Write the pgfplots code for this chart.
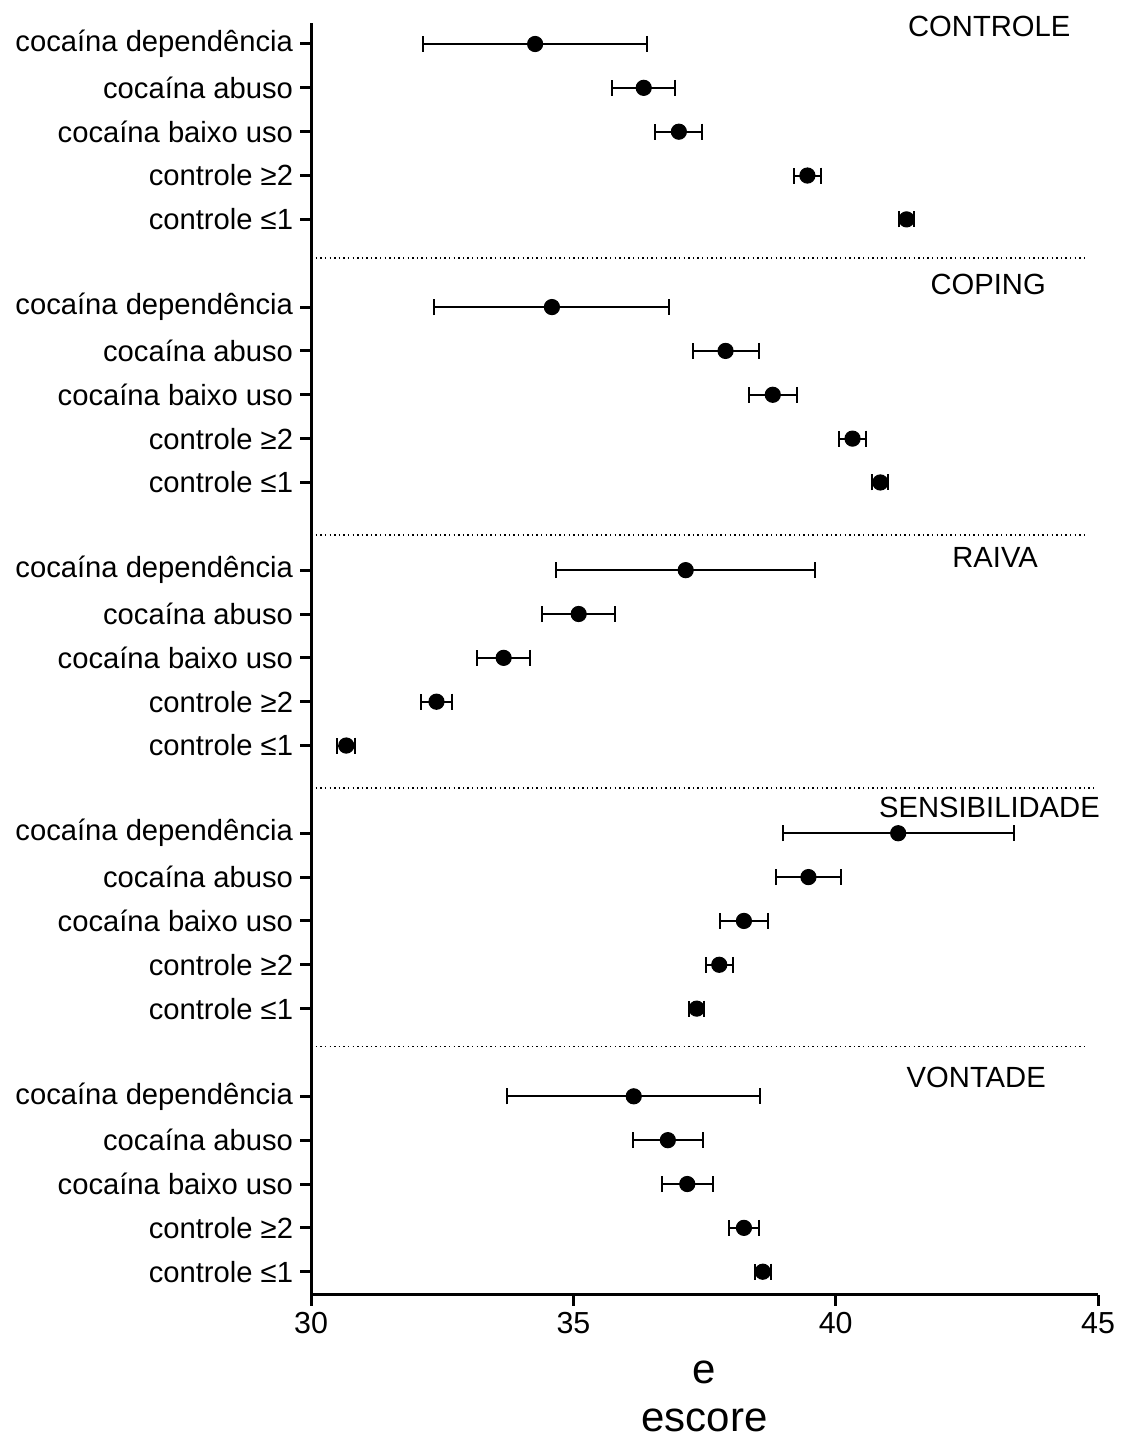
\documentclass[border=0pt]{standalone}
\usepackage{fontspec}
\setmainfont{Liberation Sans}
\usepackage{pgfplots}
\pgfplotsset{compat=1.18}
\usepackage{pgfplotstable}

\pgfplotstableread{
y x ex
0 34.27 2.14
1 36.34 0.60
2 37.01 0.45
3 39.46 0.25
4 41.35 0.15
6 34.59 2.24
7 37.90 0.63
8 38.80 0.46
9 40.32 0.26
10 40.85 0.15
12 37.14 2.47
13 35.10 0.69
14 33.67 0.51
15 32.39 0.29
16 30.67 0.17
18 41.19 2.20
19 39.48 0.62
20 38.25 0.45
21 37.78 0.26
22 37.35 0.14
24 36.15 2.41
25 36.80 0.67
26 37.17 0.49
27 38.25 0.28
28 38.61 0.15
}\datatable

\begin{document}
\begin{tikzpicture}
\begin{axis}[
  scale only axis, width=393.5pt, height=635.6pt,
  xmin=30, xmax=45, ymin=-0.47, ymax=28.52, y dir=reverse,
  axis x line=bottom, axis y line=left,
  axis line style={-, line width=1.5pt},
  xtick={30,35,40,45},
  ytick={0,1,2,3,4,6,7,8,9,10,12,13,14,15,16,18,19,20,21,22,24,25,26,27,28},
  yticklabels={cocaína dependência, cocaína abuso, cocaína baixo uso, controle ≥2, controle ≤1,
               cocaína dependência, cocaína abuso, cocaína baixo uso, controle ≥2, controle ≤1,
               cocaína dependência, cocaína abuso, cocaína baixo uso, controle ≥2, controle ≤1,
               cocaína dependência, cocaína abuso, cocaína baixo uso, controle ≥2, controle ≤1,
               cocaína dependência, cocaína abuso, cocaína baixo uso, controle ≥2, controle ≤1},
  tick align=outside,
  major tick length=5.5pt,
  tick style={line width=1.5pt, black},
  clip=false,
  /pgf/number format/assume math mode=true,
  xticklabel style={font=\fontsize{15.2}{18}\selectfont},
  yticklabel style={font=\fontsize{14.6}{17}\selectfont},
]
\path (axis cs:24.07,-1.003) rectangle (axis cs:45.42,31.77);
\addplot[black, only marks, mark=*, mark size=3.8pt, mark options={line width=0.5pt},
  error bars/.cd, x dir=both, x explicit,
  error mark=|,
  error bar style={line width=1pt, black},
  error mark options={mark size=4pt, line width=1pt, black}]
  table[x=x, y=y, x error=ex] {\datatable};
\addplot[black, mark=none, line width=0.7pt, dash pattern=on 0.7pt off 1.6pt, forget plot] coordinates {(30,4.88) (44.75,4.88)};
\addplot[black, mark=none, line width=0.7pt, dash pattern=on 0.7pt off 1.6pt, forget plot] coordinates {(30,11.20) (44.75,11.20)};
\addplot[black, mark=none, line width=0.7pt, dash pattern=on 0.7pt off 1.6pt, forget plot] coordinates {(30,16.97) (44.94,16.97)};
\addplot[black, mark=none, line width=0.7pt, dash pattern=on 0.7pt off 1.6pt, forget plot] coordinates {(30,22.87) (44.75,22.87)};
\node[anchor=east, inner sep=0pt, font=\fontsize{14.6}{17}\selectfont] at (axis cs:44.48,-0.41) {CONTROLE};
\node[anchor=east, inner sep=0pt, font=\fontsize{14.6}{17}\selectfont] at (axis cs:44.01,5.48) {COPING};
\node[anchor=east, inner sep=0pt, font=\fontsize{14.6}{17}\selectfont] at (axis cs:43.86,11.71) {RAIVA};
\node[anchor=east, inner sep=0pt, font=\fontsize{14.6}{17}\selectfont] at (axis cs:45.04,17.41) {SENSIBILIDADE};
\node[anchor=east, inner sep=0pt, font=\fontsize{14.6}{17}\selectfont] at (axis cs:44.01,23.58) {VONTADE};
\node[anchor=base, inner sep=0pt, font=\fontsize{21}{25}\selectfont] at (axis cs:37.5,30.54) {e};
\node[anchor=base, inner sep=0pt, font=\fontsize{21}{25}\selectfont] at (axis cs:37.5,31.65) {escore};
\end{axis}
\end{tikzpicture}
\end{document}
